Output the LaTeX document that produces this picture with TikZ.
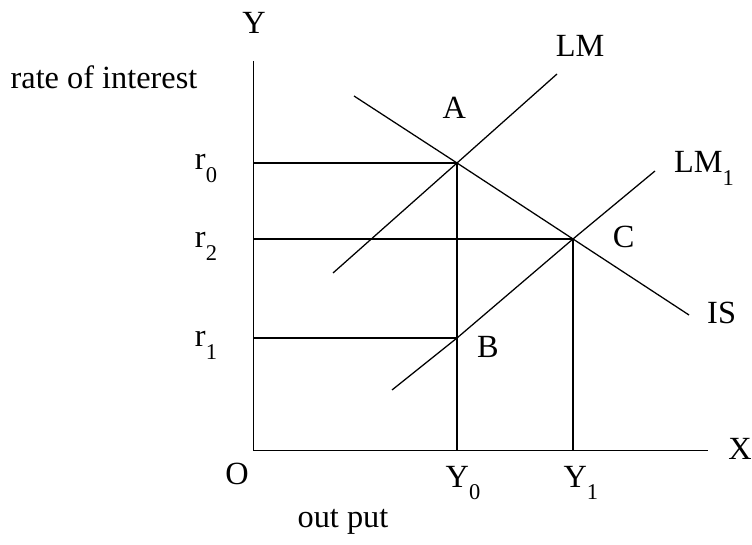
\documentclass[tikz,border=0pt]{standalone}
\usepackage{fontspec}
\setmainfont{Liberation Serif}
\newcommand{\lowsub}[1]{\raisebox{-0.4em}{\fontsize{16}{17}\selectfont #1}}
\tikzset{
    curve/.style={line width=0.9pt},
    guide/.style={line width=0.9pt},
    lbl/.style={anchor=base, inner sep=0pt, font=\fontsize{23}{27}\selectfont},
}
\begin{document}
\begin{tikzpicture}
    \useasboundingbox (0,0) rectangle (18.8,13.6);

    % Axes
    \coordinate (O) at (6.34,2.33);
    \coordinate (Ytop) at (6.34,12.08);
    \coordinate (Xend) at (17.7,2.33);
    \draw[guide] (Ytop) -- (O) -- (Xend);

    % Equilibrium points
    \coordinate (A) at (11.425,9.525);
    \coordinate (B) at (11.425,5.15);
    \coordinate (C) at (14.325,7.625);

    % Curves
    \coordinate (LMlo) at (8.325,6.775);
    \coordinate (LMhi) at (13.925,11.75);
    \coordinate (LMalo) at (9.8,3.85);
    \coordinate (LMahi) at (16.375,9.325);
    \coordinate (ISlo) at (8.85,11.2);
    \coordinate (IShi) at (17.225,5.725);
    \draw[curve] (LMlo) -- (A) -- (LMhi);
    \draw[curve] (LMalo) -- (B) -- (C) -- (LMahi);
    \draw[curve] (ISlo) -- (A) -- (C) -- (IShi);

    % Guide lines to the axes
    \draw[guide] (O |- A) -- (A) -- (A |- O);
    \draw[guide] (O |- C) -- (C) -- (C |- O);
    \draw[guide] (O |- B) -- (B);

    % Labels
    \node[lbl] (ylab) at (6.35,12.75) {Y};
    \node[lbl] (ratelab) at (2.6,11.375) {rate of interest};
    \node[lbl] (xlab) at (18.5,2.1) {X};
    \node[lbl] (olab) at (5.925,1.475) {O};
    \node[lbl] (outlab) at (8.575,0.425) {out put};
    \node[lbl] (r0lab) at (5.15,9.35) {r\lowsub{0}};
    \node[lbl] (r2lab) at (5.15,7.4) {r\lowsub{2}};
    \node[lbl] (r1lab) at (5.15,4.925) {r\lowsub{1}};
    \node[lbl] (y0lab) at (11.575,1.425) {Y\lowsub{0}};
    \node[lbl] (y1lab) at (14.52,1.425) {Y\lowsub{1}};
    \node[lbl] (alab) at (11.36,10.625) {A};
    \node[lbl] (blab) at (12.2,4.65) {B};
    \node[lbl] (clab) at (15.59,7.4) {C};
    \node[lbl] (lmlab) at (14.5,12.175) {LM};
    \node[lbl] (lm1lab) at (17.6,9.275) {LM\lowsub{1}};
    \node[lbl] (islab) at (18.04,5.5) {IS};
\end{tikzpicture}
\end{document}
